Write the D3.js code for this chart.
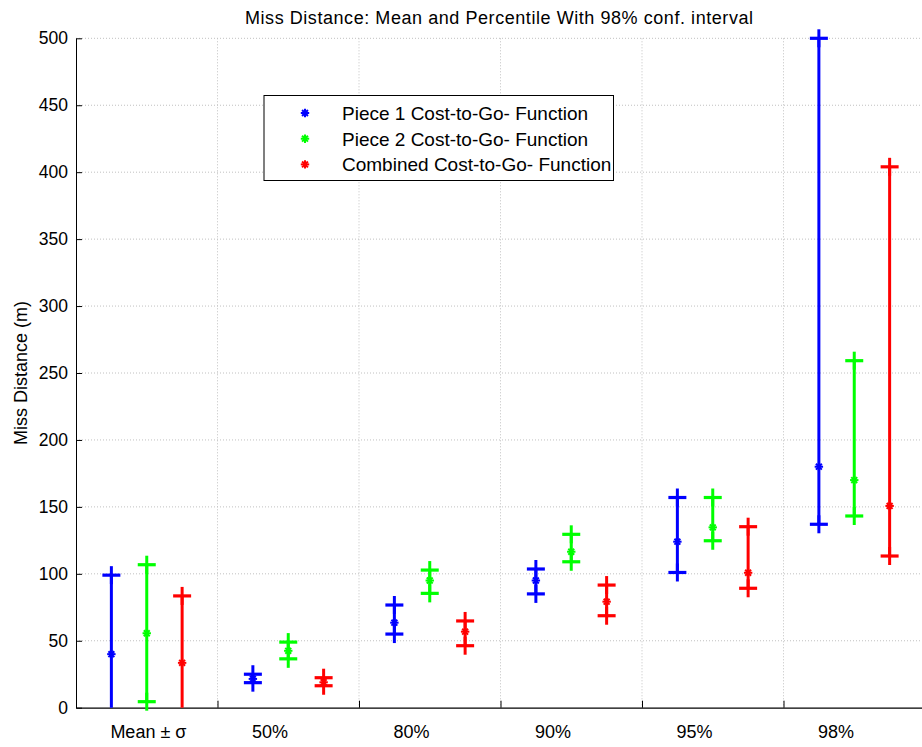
<!DOCTYPE html>
<html><head><meta charset="utf-8">
<script src="https://cdn.jsdelivr.net/npm/d3@7/dist/d3.min.js"></script>
<style>
html,body{margin:0;padding:0;background:#fff;}
svg{display:block;font-family:"Liberation Sans",Arial,Helvetica,sans-serif;}
</style></head>
<body>
<svg id="chart" width="922" height="747"></svg>
<script>
const categories = ["Mean ± σ", "50%", "80%", "90%", "95%", "98%"];
const seriesNames = ["Piece 1 Cost-to-Go- Function", "Piece 2 Cost-to-Go- Function", "Combined Cost-to-Go- Function"];
const seriesColors = ["#0000ff", "#00ff00", "#ff0000"];
const piece1Center = [40, 21.5, 63.5, 95, 124, 180];
const piece1Lower  = [-19, 18.7, 55, 85, 101, 137];
const piece1Upper  = [99, 25, 76.7, 103.6, 157, 500];
const piece2Center = [55.6, 42.5, 95, 116.5, 134.7, 170];
const piece2Lower  = [4.5, 36.5, 85.4, 109, 124.7, 143.2];
const piece2Upper  = [106.8, 49, 102.8, 129.5, 157, 259.2];
const combCenter   = [33.5, 19, 56.8, 79.2, 100.8, 150.7];
const combLower    = [-16.5, 16.4, 46.3, 68.7, 89.2, 113.3];
const combUpper    = [83.5, 22.4, 64.8, 91.6, 135.2, 404];
const yTicks = [0, 50, 100, 150, 200, 250, 300, 350, 400, 450, 500];
const xGridTicks = [1.5, 2.5, 3.5, 4.5, 5.5];
const titleText = "Miss Distance: Mean and Percentile With 98% conf. interval";
const yLabelText = "Miss Distance (m)";

(function () {
const centers = [piece1Center, piece2Center, combCenter];
const lowers = [piece1Lower, piece2Lower, combLower];
const uppers = [piece1Upper, piece2Upper, combUpper];
const offsets = [-0.25, 0, 0.25];

const svg = d3.select("#chart");
const pLeft = 76, pBottom = 707.7, pTop = 38.3, pRight = 925;
const x = d3.scaleLinear().domain([0.5, 6.5]).range([pLeft, pRight]);
const y = d3.scaleLinear().domain([0, 500]).range([pBottom, pTop]);

svg.append("defs").append("clipPath").attr("id", "plotclip")
  .append("rect").attr("x", pLeft).attr("y", pTop).attr("width", pRight - pLeft).attr("height", pBottom - pTop);

// grid
const grid = svg.append("g");
grid.selectAll("line.hg").data(yTicks.filter(d => d > 0)).join("line")
  .attr("x1", pLeft).attr("x2", 922).attr("y1", d => y(d)).attr("y2", d => y(d))
  .attr("stroke", "#c0c0c0").attr("stroke-width", 1).attr("stroke-dasharray", "1,2");
grid.selectAll("line.vg").data(xGridTicks).join("line")
  .attr("x1", d => x(d)).attr("x2", d => x(d)).attr("y1", pTop).attr("y2", pBottom)
  .attr("stroke", "#c0c0c0").attr("stroke-width", 1).attr("stroke-dasharray", "1,2");

// axes
const yAxis = d3.axisLeft(y).tickValues(yTicks).tickSizeInner(-6).tickSizeOuter(0).tickPadding(8);
const gy = svg.append("g").attr("transform", `translate(${pLeft},0)`).call(yAxis);
gy.select(".domain").attr("stroke", "#000").attr("stroke-width", 1);
gy.selectAll(".tick line").attr("stroke", "#000");
gy.selectAll(".tick text").attr("font-size", "17.5px").attr("fill", "#000")
  .attr("font-family", "Liberation Sans, Arial, sans-serif");

const xAxis = d3.axisBottom(x).tickValues(xGridTicks).tickSizeInner(-7).tickSizeOuter(0).tickFormat("");
const gx = svg.append("g").attr("transform", `translate(0,${pBottom})`).call(xAxis);
gx.select(".domain").attr("stroke", "#000").attr("stroke-width", 1.2);
gx.selectAll(".tick line").attr("stroke", "#000");

// category labels
svg.append("g").selectAll("text").data(categories).join("text")
  .attr("x", (d, i) => x(i + 1 - 0.25) - 1)
  .attr("y", 738)
  .attr("font-size", "18px").attr("fill", "#000")
  .text(d => d);

// title
svg.append("text").attr("x", 499).attr("y", 24).attr("text-anchor", "middle")
  .attr("font-size", "18px").attr("fill", "#000")
  .attr("textLength", 508).attr("lengthAdjust", "spacing").text(titleText);

// y label
svg.append("text").attr("transform", "translate(27,373) rotate(-90)").attr("text-anchor", "middle")
  .attr("font-size", "18px").attr("fill", "#000").text(yLabelText);

// error bars
const plotG = svg.append("g");
const stemG = plotG.append("g").attr("clip-path", "url(#plotclip)");
const mk = plotG.append("g");
const half = 9;
function star(g, cx, cy, color) {
  const r = 4.2;
  const segs = [[-r, 0, r, 0], [0, -r, 0, r], [-r*0.7, -r*0.7, r*0.7, r*0.7], [-r*0.7, r*0.7, r*0.7, -r*0.7]];
  segs.forEach(s => g.append("line").attr("x1", cx + s[0]).attr("y1", cy + s[1]).attr("x2", cx + s[2]).attr("y2", cy + s[3])
    .attr("stroke", color).attr("stroke-width", 2));
}
for (let s = 0; s < 3; s++) {
  const color = seriesColors[s];
  categories.forEach((c, i) => {
    const cx = x(i + 1 + offsets[s]);
    const yl = y(lowers[s][i]), yu = y(uppers[s][i]), ym = y(centers[s][i]);
    stemG.append("line").attr("x1", cx).attr("x2", cx).attr("y1", yl).attr("y2", yu)
      .attr("stroke", color).attr("stroke-width", 3);
    [lowers[s][i], uppers[s][i]].forEach(v => {
      if (v < 0 || v > 500) return;
      const py = y(v);
      mk.append("line").attr("x1", cx - half).attr("x2", cx + half).attr("y1", py).attr("y2", py)
        .attr("stroke", color).attr("stroke-width", 3.2);
      mk.append("line").attr("x1", cx).attr("x2", cx).attr("y1", py - half).attr("y2", py + half)
        .attr("stroke", color).attr("stroke-width", 3);
    });
    star(mk, cx, ym, color);
  });
}

// legend
const lg = svg.append("g");
lg.append("rect").attr("x", 264).attr("y", 95.5).attr("width", 349.5).attr("height", 85)
  .attr("fill", "#fff").attr("stroke", "#000").attr("stroke-width", 1);
seriesNames.forEach((n, i) => {
  const cy = 113 + i * 25.7;
  star(lg, 305, cy, seriesColors[i]);
  lg.append("text").attr("x", 342).attr("y", cy + 6.8).attr("font-size", "19px").attr("fill", "#000").text(n);
});
})();
</script>
</body></html>
